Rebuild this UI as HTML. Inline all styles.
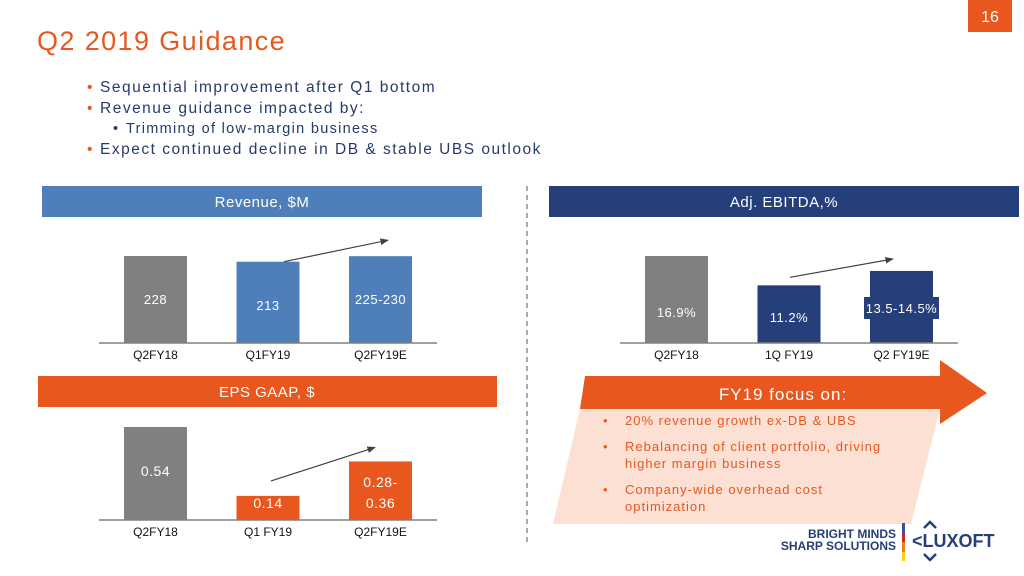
<!DOCTYPE html>
<html><head><meta charset="utf-8"><style>
html,body{margin:0;padding:0;background:#fff}
#root{position:relative;width:1024px;height:576px;overflow:hidden;font-family:"Liberation Sans",sans-serif}
svg text{font-family:"Liberation Sans",sans-serif}
</style></head><body>
<div id="root">
<svg id="s" width="1024" height="576" viewBox="0 0 1024 576">
<text x="37" y="50" font-size="27" letter-spacing="1.4" fill="#e8571e">Q2 2019 Guidance</text>
<rect x="968" y="0" width="44" height="32" fill="#e8571e"/>
<text x="990" y="22" font-size="16" fill="#fff" text-anchor="middle">16</text>
<g font-size="15.5" letter-spacing="1.5" fill="#263a6b">
<text x="87" y="92" fill="#e8571e">•</text><text x="100" y="92">Sequential improvement after Q1 bottom</text>
<text x="87" y="113" fill="#e8571e">•</text><text x="100" y="113">Revenue guidance impacted by:</text>
<text x="113" y="133" font-size="14.5" letter-spacing="1.3">•</text><text x="126" y="133" font-size="14.5" letter-spacing="1.3">Trimming of low-margin business</text>
<text x="87" y="154" fill="#e8571e">•</text><text x="100" y="154">Expect continued decline in DB &amp; stable UBS outlook</text>
</g>
<line x1="527" y1="186" x2="527" y2="542" stroke="#555" stroke-width="1" stroke-dasharray="5,4"/>
<rect x="42" y="186" width="440" height="31" fill="#4f7fba"/>
<text x="262" y="207" font-size="15" letter-spacing="0.5" fill="#fff" text-anchor="middle">Revenue, $M</text>
<rect x="549" y="186" width="470" height="31" fill="#243f7a"/>
<text x="784" y="207" font-size="15" letter-spacing="0.5" fill="#fff" text-anchor="middle">Adj. EBITDA,%</text>
<rect x="38" y="376" width="459" height="31" fill="#e8571e"/>
<text x="267" y="397" font-size="15" letter-spacing="0.5" fill="#fff" text-anchor="middle">EPS GAAP, $</text>
<polygon points="585,376 940,376 940,360 987,393 940,424 940,409 580,409" fill="#e8571e"/>
<polygon points="580,409 940,409 911,524 553,524" fill="#fde0d4"/>
<text x="783" y="400" font-size="17" letter-spacing="1" fill="#fff" text-anchor="middle">FY19 focus on:</text>
<g font-size="13" letter-spacing="1" fill="#e8571e">
<text x="603" y="425">•</text><text x="625" y="425">20% revenue growth ex-DB &amp; UBS</text>
<text x="603" y="451">•</text><text x="625" y="451">Rebalancing of client portfolio, driving</text>
<text x="625" y="468">higher margin business</text>
<text x="603" y="494">•</text><text x="625" y="494">Company-wide overhead cost</text>
<text x="625" y="511">optimization</text>
</g>
<g>
<text x="896" y="538" font-size="12" font-weight="bold" fill="#243f7a" text-anchor="end">BRIGHT MINDS</text>
<text x="896" y="550" font-size="12" font-weight="bold" fill="#243f7a" text-anchor="end">SHARP SOLUTIONS</text>
<rect x="902" y="523" width="3" height="10" fill="#3a4fa0"/><rect x="902" y="533" width="3" height="9" fill="#d2232a"/><rect x="902" y="542" width="3" height="10" fill="#f07d1a"/><rect x="902" y="552" width="3" height="9" fill="#f5d20b"/>
<text x="912" y="547" font-size="18" font-weight="bold" fill="#243f7a">&lt;LUXOFT</text>
<polyline points="924,528 930,522 936,528" fill="none" stroke="#243f7a" stroke-width="2.5"/>
<polyline points="924,554 930,560 936,554" fill="none" stroke="#243f7a" stroke-width="2.5"/>
</g>
<defs><marker id="ah" viewBox="0 0 10 10" refX="9" refY="5" markerWidth="7" markerHeight="7" orient="auto"><path d="M0,1 L10,5 L0,9 z" fill="#404040"/></marker></defs>
<g id="charts"></g>
</svg>
</div>
<script>
const revCats = ["Q2FY18","Q1FY19","Q2FY19E"];
const revVals = [228, 213, 227.5];
const revLabels = ["228","213","225-230"];
const ebCats = ["Q2FY18","1Q FY19","Q2 FY19E"];
const ebVals = [16.9, 11.2, 14.0];
const ebLabels = ["16.9%","11.2%","13.5-14.5%"];
const epsCats = ["Q2FY18","Q1 FY19","Q2FY19E"];
const epsVals = [0.54, 0.14, 0.34];
const epsLabels = [["0.54"],["0.14"],["0.28-","0.36"]];

const NS = "http://www.w3.org/2000/svg";
const g = document.getElementById('charts');
function mk(tag, attrs){const e=document.createElementNS(NS,tag);for(const k in attrs)e.setAttribute(k,attrs[k]);g.appendChild(e);return e;}

function chart(name, cats, vals, labels, x0, base, scale, colors, axisX1, axisX2, labelY, lineGap, boxLast){
  const xs = i => x0 + i*112.5;
  const y = v => base - v*scale;
  const tops = [];
  vals.forEach((v,i)=>{
    const b = mk('rect',{x:xs(i),y:y(v),width:63,height:base-y(v),fill:colors[i]});
    
    
    tops.push(y(v));
    const t = mk('text',{x:xs(i)+31.5,y:base+16,'font-size':12,fill:'#111','text-anchor':'middle'});
    t.textContent = cats[i];
    
    
    if (boxLast && i === vals.length-1) {
      const bx = mk('rect',{x:xs(i)-6,y:labelY[i]-16,width:75,height:22,fill:colors[i]});
      
      
    }
    const ls = Array.isArray(labels[i])?labels[i]:[labels[i]];
    ls.forEach((s,j)=>{
      const lt = mk('text',{x:xs(i)+31.5,y:labelY[i]+j*lineGap,'font-size':ls.length>1||name==='eps'?14:13,'letter-spacing':0.5,fill:'#fff','text-anchor':'middle'});
      lt.textContent = s;
      
      
    });
  });
  const ax = mk('line',{x1:axisX1,y1:base,x2:axisX2,y2:base,stroke:'#808080','stroke-width':1.5});
  
  
  return {xs, tops};
}
const r = chart('revenue', revCats, revVals, revLabels, 124, 343, 87/228, ['#808080','#4f7fba','#4f7fba'], 99, 437, [304,310,304], 0, false);
const e = chart('ebitda', ebCats, ebVals, ebLabels, 645, 343, 87/16.9, ['#808080','#243f7a','#243f7a'], 620, 958, [317,322,313], 0, true);
const p = chart('eps', epsCats, epsVals, epsLabels, 124, 520, 93/0.54, ['#808080','#e8571e','#e8571e'], 99, 437, [476,508,487], 21, false);

function arrow(name, x1,y1,x2,y2){
  const a = mk('line',{x1,y1,x2,y2,stroke:'#404040','stroke-width':1.2,'marker-end':'url(#ah)'});
  
  
}
arrow('revenue-trend-arrow', 284, r.tops[1], 388, r.tops[2]-16);
arrow('ebitda-trend-arrow', 790, e.tops[1]-8, 893, e.tops[2]-12);
arrow('eps-trend-arrow', 271, p.tops[1]-15, 375, p.tops[2]-14);
</script>
</body></html>
